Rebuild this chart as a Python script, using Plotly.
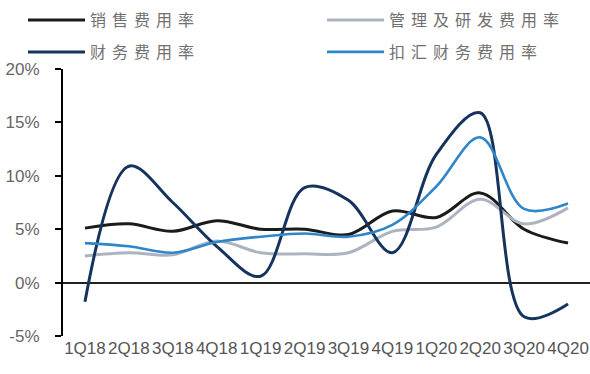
import plotly.graph_objects as go

quarters = ["1Q18", "2Q18", "3Q18", "4Q18", "1Q19", "2Q19", "3Q19", "4Q19",
            "1Q20", "2Q20", "3Q20", "4Q20"]
sales_rate = [5.1, 5.5, 4.8, 5.8, 5.0, 5.0, 4.5, 6.7, 6.1, 8.4, 5.0, 3.7]
admin_rd_rate = [2.5, 2.8, 2.6, 3.9, 2.8, 2.7, 2.8, 4.8, 5.2, 7.8, 5.5, 7.0]
finance_rate = [-1.8, 10.9, 7.5, 3.4, 0.6, 8.9, 7.7, 2.8, 12.0, 15.9, -3.2, -2.0]
fx_adj_finance_rate = [3.7, 3.4, 2.8, 3.8, 4.3, 4.6, 4.3, 5.4, 9.0, 13.6, 6.9, 7.4]

y_ticks = [-5, 0, 5, 10, 15, 20]
y_tick_labels = ["-5%", "0%", "5%", "10%", "15%", "20%"]

W, H = 590, 374
# (name, values, colour, width, legend id, legend x px, legend y px)
series = [
    ("销售费用率", sales_rate, "#1b1b1b", 3, "legend", 23, 20),
    ("管理及研发费用率", admin_rd_rate, "#adb4c1", 3, "legend2", 322, 20),
    ("财务费用率", finance_rate, "#15335c", 3, "legend3", 23, 52),
    ("扣汇财务费用率", fx_adj_finance_rate, "#2f86c9", 2.6, "legend4", 322, 52),
]

fig = go.Figure()
legend_font = dict(family="Noto Sans CJK SC", size=16, color="#707070")
legends = {}
for name, vals, color, w, lg, lx, ly in series:
    fig.add_trace(go.Scatter(
        x=quarters, y=vals, mode="lines",
        name='<span style="letter-spacing:6px">' + name + '</span>',
        line=dict(color=color, width=w, shape="spline", smoothing=1.0),
        legend=lg,
    ))
    legends[lg] = dict(x=lx / W, y=1 - ly / H, xanchor="left", yanchor="middle",
                       xref="container", yref="container",
                       font=legend_font, itemwidth=57,
                       bgcolor="rgba(0,0,0,0)", borderwidth=0)

fig.update_layout(
    width=W, height=H,
    margin=dict(l=63, r=0, t=69, b=38, autoexpand=False),
    paper_bgcolor="white", plot_bgcolor="white",
    showlegend=True,
    **legends,
    xaxis=dict(
        type="category", range=[-0.5, len(quarters) - 0.5],
        showgrid=False, showline=False, ticks="",
        tickfont=dict(family="Liberation Sans", size=17, color="#555555"),
        zeroline=False, tickangle=0, automargin=False,
    ),
    yaxis=dict(
        range=[-5, 20], tickvals=y_ticks, ticktext=y_tick_labels,
        showgrid=False, showline=True, linecolor="black", linewidth=2,
        ticks="outside", ticklen=6, tickcolor="black", tickwidth=2,
        tickfont=dict(family="Liberation Sans", size=17, color="#666666"),
        zeroline=True, zerolinecolor="#222222", zerolinewidth=1.5,
        ticklabelstandoff=12, automargin=False,
    ),
)

fig.write_html("out.html", config={"displayModeBar": False},
               post_script="document.body.style.margin='0px';")
